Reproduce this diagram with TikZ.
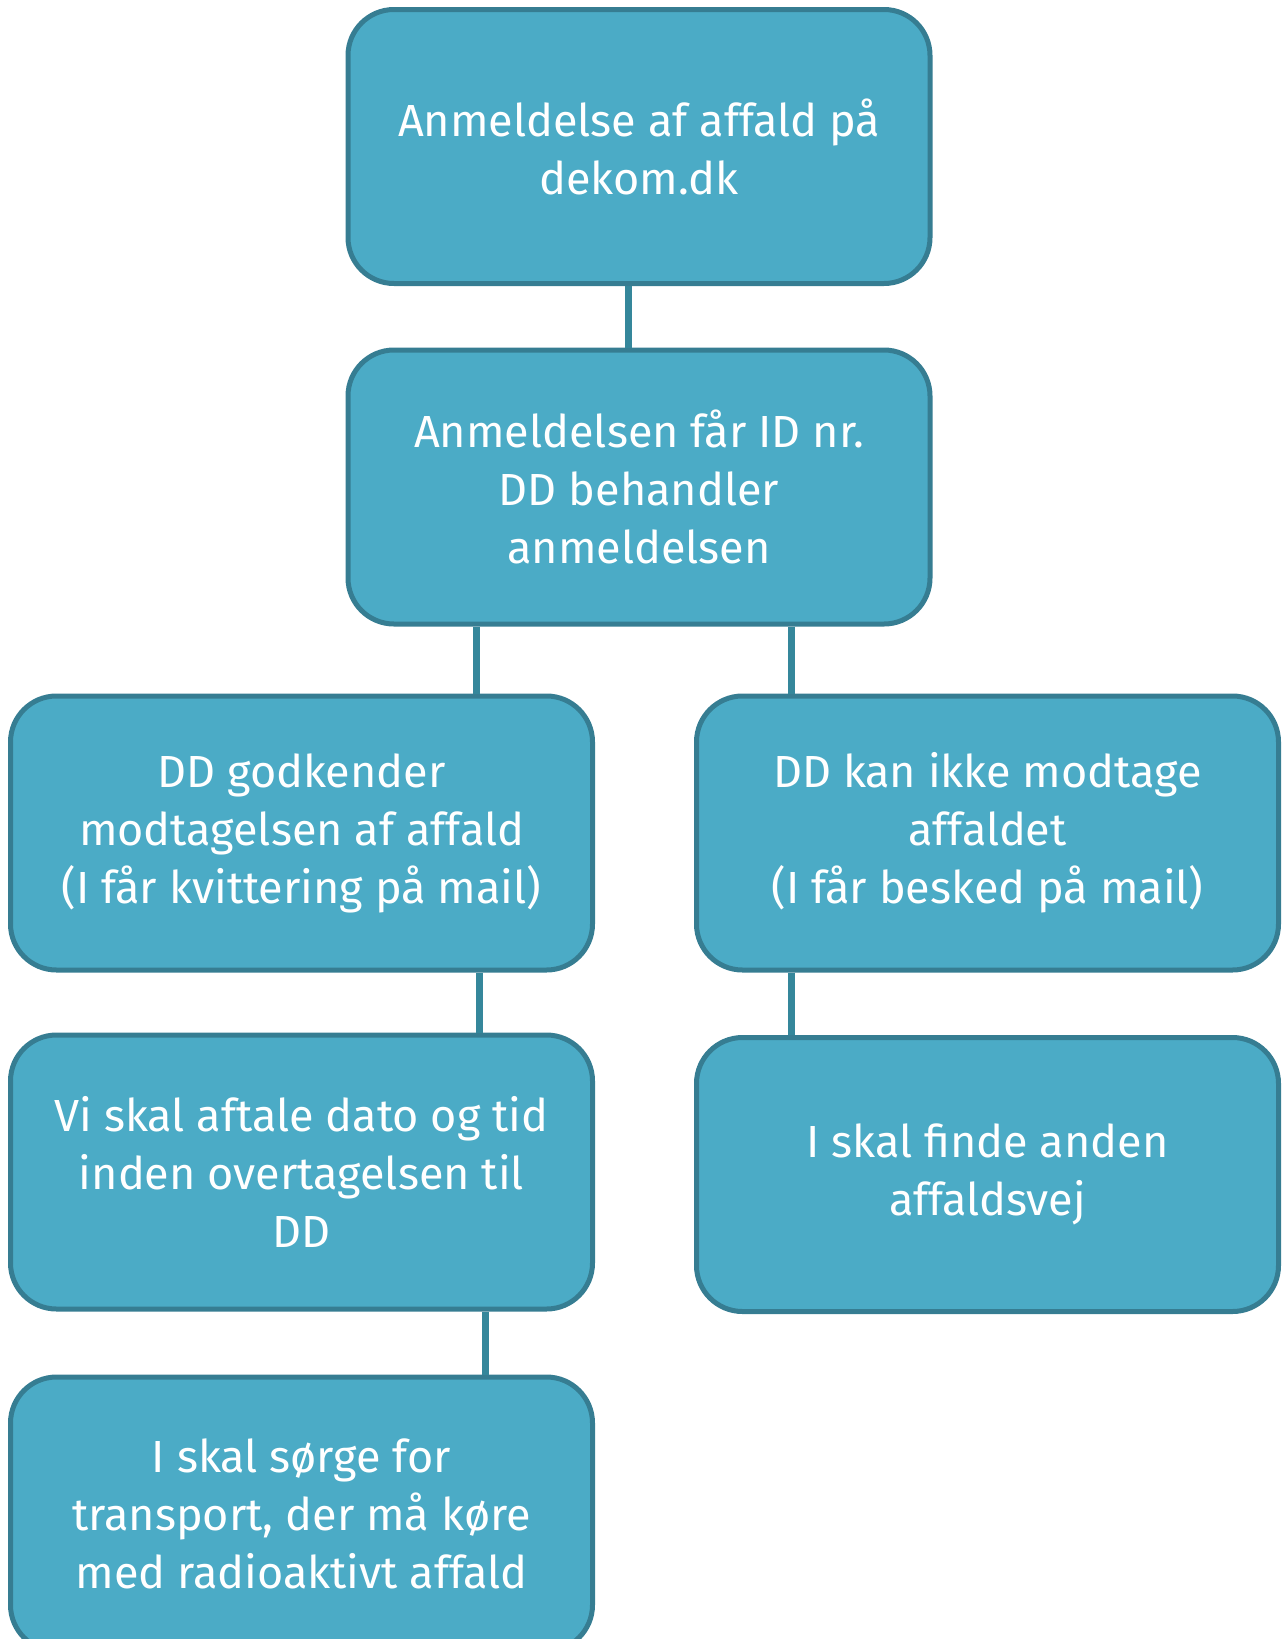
\documentclass[tikz,border=0pt]{standalone}
\usepackage{fontspec}
\setmainfont{Fira Sans}
\usepackage{xcolor}

\definecolor{boxfill}{HTML}{4BABC6}
\definecolor{boxline}{HTML}{367D92}
\definecolor{linkline}{HTML}{35879B}

\tikzset{
stepbox/.style={draw=boxline, fill=boxfill, line width=2.5pt, rounded corners=23pt,
  minimum width=291pt, minimum height=137pt, align=center, text=white,
  font=\fontsize{22.5}{29}\selectfont, inner sep=0pt},
link/.style={draw=linkline, line width=3.5pt}
}

\begin{document}
\begin{tikzpicture}[x=0.5pt,y=-0.5pt]
\useasboundingbox (0,0) rectangle (1285,1639);

\node[stepbox] (anmeld) at (639,146.5) {Anmeldelse af affald på\\dekom.dk};
\node[stepbox] (idnr) at (639,487) {Anmeldelsen får ID nr.\\DD behandler\\anmeldelsen};

\node[stepbox] (godkend) at (301.5,833) {DD godkender\\modtagelsen af affald\\(I får kvittering på mail)};
\node[stepbox] (afvis) at (987.5,833) {DD kan ikke modtage\\affaldet\\(I får besked på mail)};

\node[stepbox] (aftale) at (301.5,1172) {Vi skal aftale dato og tid\\inden overtagelsen til\\DD};
\node[stepbox] (andenvej) at (987.5,1174.5) {I skal finde anden\\affaldsvej};

\node[stepbox] (transport) at (301.5,1514) {I skal sørge for\\transport, der må køre\\med radioaktivt affald};

\path[link]
(anmeld.south -| 628,0) -- (idnr.north -| 628,0)
(idnr.south -| 476,0) -- (godkend.north -| 476,0)
(idnr.south -| 791,0) -- (afvis.north -| 791,0)
(godkend.south -| 479,0) -- (aftale.north -| 479,0)
(afvis.south -| 791,0) -- (andenvej.north -| 791,0)
(aftale.south -| 485,0) -- (transport.north -| 485,0);
\end{tikzpicture}
\end{document}
